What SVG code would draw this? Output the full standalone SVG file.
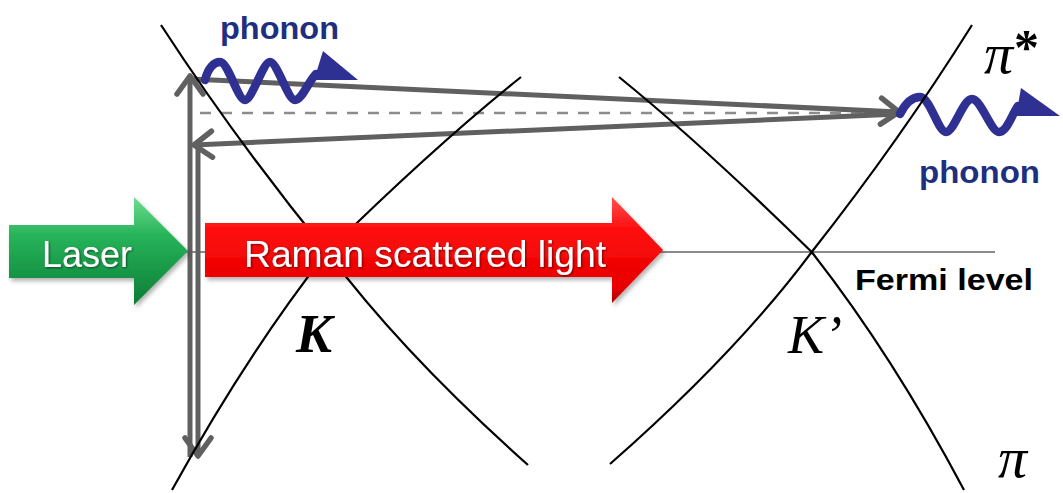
<svg xmlns="http://www.w3.org/2000/svg" width="1063" height="493" viewBox="0 0 1063 493">
<defs>
<style>
.band{fill:none;stroke:#000;stroke-width:2.2}
.ray{fill:none;stroke:#606060;stroke-width:5;stroke-linecap:butt}
.wave{fill:none;stroke:#2e3192;stroke-width:8.5;stroke-linecap:round}
.wavehead{fill:#2e3192}
.lbl{font-family:"Liberation Sans",Arial,sans-serif;font-weight:bold;fill:#1f2f7f}
.arrtxt{font-family:"Liberation Sans",Arial,sans-serif;fill:#fff}
.sym{font-family:"Liberation Serif","Times New Roman",serif;font-style:italic;fill:#000}
</style>
<marker id="chev" viewBox="0 0 26 32" refX="22" refY="16" markerWidth="26" markerHeight="32" orient="auto" markerUnits="userSpaceOnUse">
<path d="M4,3 L22,16 L4,29" fill="none" stroke="#606060" stroke-width="5.5" stroke-linecap="round" stroke-linejoin="round"/>
</marker>
<linearGradient id="gGreen" x1="0" y1="0" x2="0" y2="1">
<stop offset="0" stop-color="#6fdc8f"/>
<stop offset="0.35" stop-color="#27b45a"/>
<stop offset="1" stop-color="#0c7c37"/>
</linearGradient>
<linearGradient id="gRed" x1="0" y1="0" x2="0" y2="1">
<stop offset="0" stop-color="#ff5050"/>
<stop offset="0.3" stop-color="#ff0d0d"/>
<stop offset="0.85" stop-color="#e80000"/>
<stop offset="1" stop-color="#a80000"/>
</linearGradient>
<filter id="shadow" x="-5%" y="-10%" width="110%" height="130%">
<feDropShadow dx="2" dy="3" stdDeviation="2" flood-color="#000" flood-opacity="0.3"/>
</filter>
<filter id="tshadow" x="-5%" y="-20%" width="110%" height="140%">
<feDropShadow dx="1" dy="1" stdDeviation="0.8" flood-color="#000" flood-opacity="0.55"/>
</filter>
</defs>
<rect width="1063" height="493" fill="#fff"/>

<g id="fermi-level">
<line x1="185" y1="252" x2="995" y2="252" stroke="#8a8a8a" stroke-width="2"/>
<text x="855" y="290" font-family="Liberation Sans, Arial, sans-serif" font-weight="bold" font-size="30" textLength="178" lengthAdjust="spacingAndGlyphs" fill="#000">Fermi level</text>
</g>

<g id="connectors">
<line x1="200" y1="113" x2="880" y2="113" stroke="#8c8c8c" stroke-width="2.5" stroke-dasharray="11 10"/>
<path class="ray" d="M190,457 L190,76" marker-end="url(#chev)"/>
<path class="ray" d="M190,79 L899,112" marker-end="url(#chev)"/>
<path class="ray" d="M899,114 L194,145" marker-end="url(#chev)"/>
<path class="ray" d="M198,145 L198,456" marker-end="url(#chev)"/>
</g>

<g id="phonon-top">
<path class="wave" d="M205,80 C208,68 214,62 220,62 C228,62 238,100 245,100 C252,100 263,62 270,62 C277,62 288,100 295,100 C302,100 308,82 316,74"/>
<polygon class="wavehead" points="314,80 323,51 358,80"/>
<text class="lbl" x="220" y="39" font-size="32" textLength="119" lengthAdjust="spacingAndGlyphs">phonon</text>
</g>

<g id="phonon-right">
<path class="wave" d="M900,114 C905,104 912,97 920,97 C930,97 938,132 946,132 C954,132 963,99 972,99 C981,99 991,132 999,132 C1007,132 1012,114 1018,106"/>
<polygon class="wavehead" points="1016,116 1021,88 1060,116"/>
<text class="lbl" x="919" y="183" font-size="32" textLength="121" lengthAdjust="spacingAndGlyphs">phonon</text>
</g>

<g id="cone-K">
<path class="band" d="M327,252 Q235.5,139.7 161,25"/>
<path class="band" d="M327,252 Q436,145 521,77"/>
<path class="band" d="M327,252 Q246.4,354.8 172,490"/>
<path class="band" d="M327,252 Q402.3,353 528,465"/>
<text class="sym" x="296" y="352" font-size="54" font-weight="bold">K</text>
</g>

<g id="cone-K-prime">
<path class="band" d="M811.7,252 Q900,140 972,25"/>
<path class="band" d="M811.7,252 Q702.7,145 619,77"/>
<path class="band" d="M811.7,252 Q892.3,354.8 964,490"/>
<path class="band" d="M811.7,252 Q736.4,353 610,464"/>
<text class="sym" x="788" y="353" font-size="54">K’</text>
</g>

<g id="pi-star">
<text class="sym" x="984" y="73" font-size="58">π<tspan x="1014" y="64" font-size="50" font-weight="bold" font-style="normal">*</tspan></text>
</g>

<g id="pi">
<text class="sym" x="998" y="477" font-size="58">π</text>
</g>

<g id="laser">
<polygon points="9,225 134,225 134,197 188,251 134,305 134,278 9,278" fill="url(#gGreen)" filter="url(#shadow)"/>
<text class="arrtxt" x="42" y="267" font-size="36" filter="url(#tshadow)">Laser</text>
</g>

<g id="raman">
<polygon points="205,223 612,223 612,197 663,250 612,303 612,277 205,277" fill="url(#gRed)" filter="url(#shadow)"/>
<text class="arrtxt" x="244" y="267" font-size="37" textLength="362" lengthAdjust="spacingAndGlyphs" filter="url(#tshadow)">Raman scattered light</text>
</g>
</svg>
